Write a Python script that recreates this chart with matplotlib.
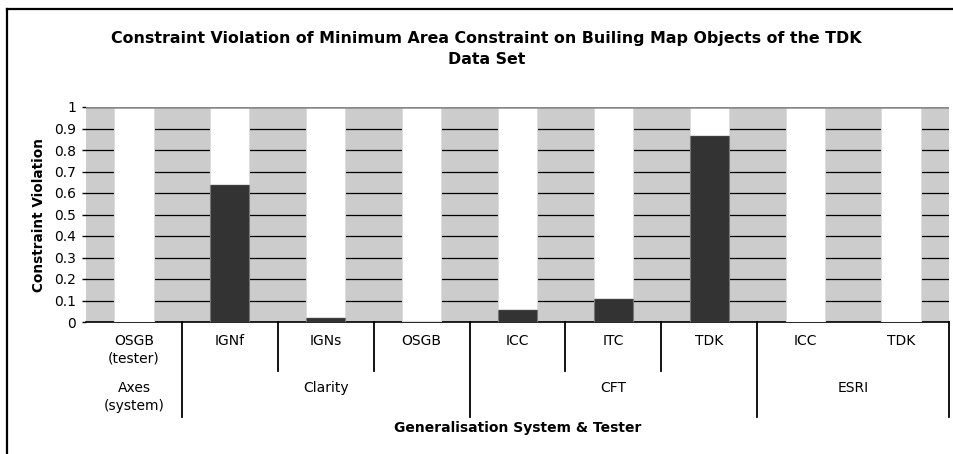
import matplotlib
matplotlib.use("Agg")
import matplotlib.pyplot as plt
from matplotlib.lines import Line2D
import matplotlib.transforms as mtrans

# ---- data ----
testers = ["OSGB\n(tester)", "IGNf", "IGNs", "OSGB", "ICC", "ITC", "TDK", "ICC", "TDK"]
violation = [0.0, 0.642, 0.021, 0.005, 0.06, 0.112, 0.868, 0.0, 0.0]
systems = ["Axes\n(system)", "Clarity", "CFT", "ESRI"]
system_span = [(0, 0), (1, 3), (4, 6), (7, 8)]
yticks = [0, 0.1, 0.2, 0.3, 0.4, 0.5, 0.6, 0.7, 0.8, 0.9, 1]
ytick_labels = ["0", "0.1", "0.2", "0.3", "0.4", "0.5", "0.6", "0.7", "0.8", "0.9", "1"]

W, H = 954, 454
fig = plt.figure(figsize=(W / 100, H / 100), dpi=100)
L, R, T, B = 86, 949, 107, 322
ax = fig.add_axes([L / W, 1 - B / H, (R - L) / W, (B - T) / H])
ax.set_facecolor("#cccccc")

x = list(range(len(testers)))
rest = [1 - v for v in violation]
bw = 0.41
ax.bar(x, violation, width=bw, color="#333333", edgecolor="#777777", lw=0.8, zorder=3)
ax.bar(x, rest, bottom=violation, width=bw, color="white", edgecolor="#dddddd", lw=0.8, zorder=3)

for yv in yticks[:-1]:
    ax.axhline(yv, color="black", lw=0.9, zorder=2)
ax.axhline(1, color="#888888", lw=1.8, zorder=4)

ax.set_xlim(-0.5, len(testers) - 0.5)
ax.set_ylim(0, 1)
ax.set_yticks(yticks)
ax.set_yticklabels(ytick_labels, fontsize=10, family="DejaVu Sans")
ax.tick_params(axis="y", direction="out", length=3, width=1, pad=4)
ax.set_xticks([])
for s in ["left", "right", "top"]:
    ax.spines[s].set_visible(False)
ax.spines["bottom"].set_linewidth(1.2)

ax.set_ylabel("Constraint Violation", fontsize=9.8, fontweight="bold", labelpad=6)

# ---- two-level category axis ----
px = 1 / (B - T)   # one pixel in axes fraction
tr = mtrans.blended_transform_factory(ax.transData, ax.transAxes)
row1, row2 = -49 * px, -95 * px
for i, lab in enumerate(testers):
    ax.text(i, -12 * px, lab, transform=tr, ha="center", va="top", fontsize=10,
            linespacing=1.35, family="DejaVu Sans")
for name, (a, b) in zip(systems, system_span):
    ax.text((a + b) / 2, -59 * px, name, transform=tr, ha="center", va="top", fontsize=10,
            linespacing=1.35, family="DejaVu Sans")
    ax.plot([b + 0.5, b + 0.5], [0, row2], transform=tr, color="black", lw=1.3, clip_on=False)
    for k in range(a, b):
        if name != "ESRI":
            ax.plot([k + 0.5, k + 0.5], [0, row1], transform=tr, color="black", lw=1.3, clip_on=False)

ax.text(0.5, -99 * px, "Generalisation System & Tester", transform=ax.transAxes,
        ha="center", va="top", fontsize=10, fontweight="bold")

fig.text(0.51, 1 - 38 / H, "Constraint Violation of Minimum Area Constraint on Builing Map Objects of the TDK",
         ha="center", va="center", fontsize=11.4, fontweight="bold", family="DejaVu Sans")
fig.text(0.51, 1 - 60 / H, "Data Set", ha="center", va="center", fontsize=11.4,
         fontweight="bold", family="DejaVu Sans")

# outer frame (top and left only)
fig.add_artist(Line2D([7 / W, 1], [1 - 9 / H, 1 - 9 / H], transform=fig.transFigure, color="black", lw=1.6))
fig.add_artist(Line2D([7 / W, 7 / W], [0, 1 - 9 / H], transform=fig.transFigure, color="black", lw=1.6))

fig.savefig("out.png", dpi=100)
